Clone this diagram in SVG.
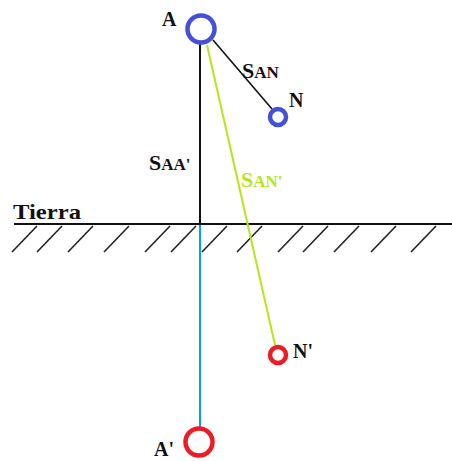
<svg xmlns="http://www.w3.org/2000/svg" width="452" height="461" viewBox="0 0 452 461">
<style>
.lbl{font-family:"Liberation Serif","Times New Roman",serif;font-weight:bold;fill:#111}
.big{font-size:22px}
.sm{font-size:17px}
.hatch{stroke:#222;stroke-width:1.6}
.bluec{fill:none;stroke:#4450d8;stroke-width:4.5}
.redc{fill:none;stroke:#ed1c24;stroke-width:4.5}
</style>
<rect width="452" height="461" fill="#fff"/>
<g id="ground">
<line x1="14" y1="224" x2="452" y2="224" stroke="#111" stroke-width="2"/>
<g class="hatch">
<line x1="37" y1="226" x2="12" y2="252"/>
<line x1="62" y1="226" x2="37" y2="252"/>
<line x1="93" y1="226" x2="68" y2="252"/>
<line x1="129" y1="226" x2="104" y2="252"/>
<line x1="170" y1="226" x2="145" y2="252"/>
<line x1="196" y1="226" x2="171" y2="252"/>
<line x1="227" y1="226" x2="202" y2="252"/>
<line x1="262" y1="226" x2="237" y2="252"/>
<line x1="303" y1="226" x2="278" y2="252"/>
<line x1="328" y1="226" x2="303" y2="252"/>
<line x1="359" y1="226" x2="334" y2="252"/>
<line x1="396" y1="226" x2="371" y2="252"/>
<line x1="436" y1="226" x2="411" y2="252"/>
</g>
<text class="lbl" x="13" y="219" font-size="21" textLength="68" lengthAdjust="spacingAndGlyphs">Tierra</text>
</g>
<g id="connectors">
<line x1="200" y1="44" x2="200" y2="224" stroke="#111" stroke-width="2"/>
<line x1="200" y1="225" x2="200" y2="428" stroke="#00a2e8" stroke-width="2"/>
<line x1="213" y1="40" x2="272" y2="109" stroke="#111" stroke-width="1.6"/>
<line x1="207" y1="45" x2="275" y2="345" stroke="#b5e61d" stroke-width="2"/>
<text class="lbl" x="242" y="78"><tspan class="big">S</tspan><tspan class="sm">AN</tspan></text>
<text class="lbl" x="149" y="170"><tspan class="big">S</tspan><tspan class="sm">AA'</tspan></text>
<text class="lbl" x="241" y="187" style="fill:#b5e61d"><tspan class="big">S</tspan><tspan class="sm">AN'</tspan></text>
</g>
<g id="A">
<circle class="bluec" cx="201" cy="29" r="13.5"/>
<text class="lbl" x="162" y="26" font-size="20">A</text>
</g>
<g id="N">
<circle class="bluec" cx="278" cy="117" r="8"/>
<text class="lbl" x="289" y="107" font-size="20">N</text>
</g>
<g id="Nprime">
<circle class="redc" cx="278" cy="355" r="8"/>
<text class="lbl" x="293" y="358" font-size="20">N'</text>
</g>
<g id="Aprime">
<circle class="redc" cx="199" cy="442" r="13.5"/>
<text class="lbl" x="154" y="456" font-size="20">A'</text>
</g>
</svg>
